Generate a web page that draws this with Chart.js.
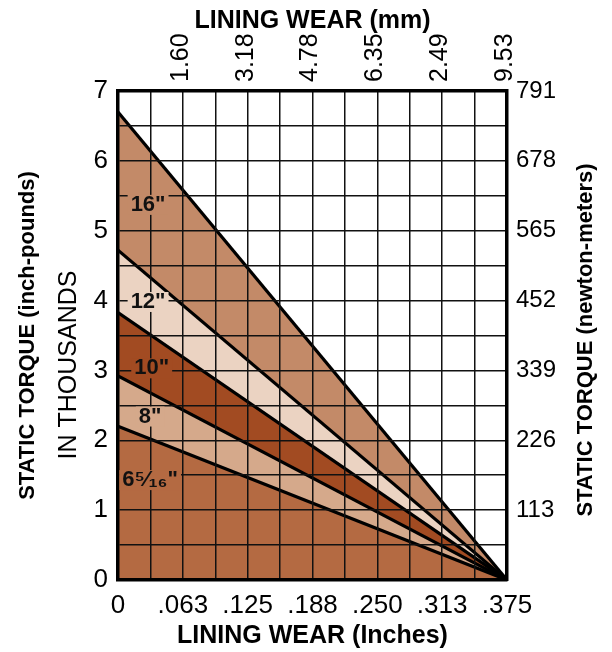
<!DOCTYPE html>
<html>
<head>
<meta charset="utf-8">
<script src="https://cdn.jsdelivr.net/npm/chart.js@4/dist/chart.umd.min.js"></script>
<style>
html,body{margin:0;padding:0;background:#fff;}
#wrap{width:612px;height:652px;position:relative;}
</style>
</head>
<body>
<div id="wrap"><canvas id="c" width="612" height="652"></canvas></div>
<script>
// ---- data ----
const seriesNames = ['6⁵⁄₁₆"', '8"', '10"', '12"', '16"'];
const startTorque = [2.2, 2.92, 3.83, 4.72, 6.7];   // thousands in-lb at zero wear
const maxWear = 0.375;                              // inches, torque reaches 0
const fillColors = ['#b46a42', '#d5a98b', '#a24b22', '#ebd3c2', '#c38a68'];
const xTickLabels = ['0', '.063', '.125', '.188', '.250', '.313', '.375'];
const mmTickLabels = ['', '1.60', '3.18', '4.78', '6.35', '2.49', '9.53'];
const yTickLabels = ['0', '1', '2', '3', '4', '5', '6', '7'];
const nmTickLabels = ['', '113', '226', '339', '452', '565', '678', '791'];

const datasets = startTorque.map((v, i) => ({
  label: seriesNames[i],
  data: [{x: 0, y: v}, {x: maxWear, y: 0}],
  borderColor: '#000',
  borderWidth: 3.2,
  pointRadius: 0,
  backgroundColor: fillColors[i],
  fill: i === 0 ? 'origin' : '-1',
  tension: 0
}));

const FONT = '"Liberation Sans", Arial, Helvetica, sans-serif';
const gridStyle = {color: '#111', lineWidth: 1.5, drawTicks: false, z: 1};
const borderStyle = {color: '#000', width: 3.5, z: 2};
const TOP_TICK_SIZE = 25;

// label placements (data coords) for series names
const labelPos = [[0.031, 1.43], [0.031, 2.34], [0.0325, 3.03], [0.029, 3.98], [0.029, 5.37]];

function rotatedText(ctx, text, x, y, font) {
  ctx.save();
  ctx.translate(x, y);
  ctx.rotate(-Math.PI / 2);
  ctx.font = font;
  ctx.fillStyle = '#000';
  ctx.textAlign = 'center';
  ctx.textBaseline = 'middle';
  ctx.fillText(text, 0, 0);
  ctx.restore();
}

const labelPlugin = {
  id: 'seriesLabels',
  afterDraw(chart) {
    const ctx = chart.ctx;
    const xs = chart.scales.x, ys = chart.scales.y;
    ctx.save();
    ctx.font = 'bold 22px ' + FONT;
    ctx.textAlign = 'center';
    ctx.textBaseline = 'middle';
    seriesNames.forEach((name, i) => {
      const px = xs.getPixelForValue(labelPos[i][0]);
      const py = ys.getPixelForValue(labelPos[i][1]);
      const w = ctx.measureText(name).width;
      ctx.fillStyle = fillColors[i];
      ctx.fillRect(px - w / 2 - 3, py - 10, w + 6, 20);
      ctx.fillStyle = '#111';
      ctx.fillText(name, px, py);
    });
    ctx.restore();
    // axis titles that read bottom-to-top
    rotatedText(ctx, 'IN THOUSANDS', 69, 365, '25px ' + FONT);
    rotatedText(ctx, 'STATIC TORQUE (newton-meters)', 586, 340, 'bold 22px ' + FONT);
  }
};

new Chart(document.getElementById('c'), {
  type: 'line',
  data: {datasets},
  plugins: [labelPlugin],
  options: {
    responsive: false,
    animation: false,
    layout: {padding: 0},
    plugins: {legend: {display: false}, tooltip: {enabled: false}},
    scales: {
      x: {
        type: 'linear', position: 'bottom', min: 0, max: maxWear, z: 1,
        grid: gridStyle, border: borderStyle,
        afterFit: s => { s.height = 72; },
        ticks: {
          stepSize: 0.03125, autoSkip: false, maxRotation: 0, padding: 10,
          color: '#000', font: {family: FONT, size: 26},
          callback: (v, i) => (i % 2 === 0 ? xTickLabels[i / 2] : '')
        },
        title: {display: true, text: 'LINING WEAR (Inches)', color: '#000',
          font: {family: FONT, size: 25, weight: 'bold'},
          padding: {top: 0, bottom: 1}}
      },
      x2: {
        type: 'linear', position: 'top', min: 0, max: maxWear, z: 1,
        grid: {display: false, drawTicks: false}, border: borderStyle,
        afterFit: s => { s.height = 91; },
        ticks: {
          stepSize: 0.0625, autoSkip: false, minRotation: 90, maxRotation: 90, padding: 9,
          labelOffset: TOP_TICK_SIZE * 1.2 - 2,
          color: '#000', font: {family: FONT, size: TOP_TICK_SIZE},
          callback: (v, i) => mmTickLabels[i] ?? ''
        },
        title: {display: true, text: 'LINING WEAR (mm)', color: '#000',
          font: {family: FONT, size: 25, weight: 'bold'},
          padding: {top: 6, bottom: 0}}
      },
      y: {
        type: 'linear', position: 'left', min: 0, max: 7, z: 1,
        grid: gridStyle, border: borderStyle,
        afterFit: s => { s.width = 70; },
        ticks: {
          stepSize: 0.5, autoSkip: false, padding: 10,
          color: '#000', font: {family: FONT, size: 26},
          callback: v => (Number.isInteger(v) ? yTickLabels[v] : '')
        }
      },
      yTitle: {
        type: 'linear', position: 'left', min: 0, max: 7, weight: 1,
        grid: {display: false, drawTicks: false}, border: {display: false},
        afterFit: s => { s.width = 48; },
        ticks: {display: false},
        title: {display: true, text: 'STATIC TORQUE (inch-pounds)', color: '#000',
          font: {family: FONT, size: 22, weight: 'bold'},
          padding: {top: 15, bottom: 0}}
      },
      y2: {
        type: 'linear', position: 'right', min: 0, max: 7, z: 1,
        grid: {display: false, drawTicks: false}, border: borderStyle,
        afterFit: s => { s.width = 105; },
        ticks: {
          stepSize: 1, autoSkip: false, padding: 9,
          color: '#000', font: {family: FONT, size: 24},
          callback: v => nmTickLabels[v] ?? ''
        }
      }
    }
  }
});
</script>
</body>
</html>
